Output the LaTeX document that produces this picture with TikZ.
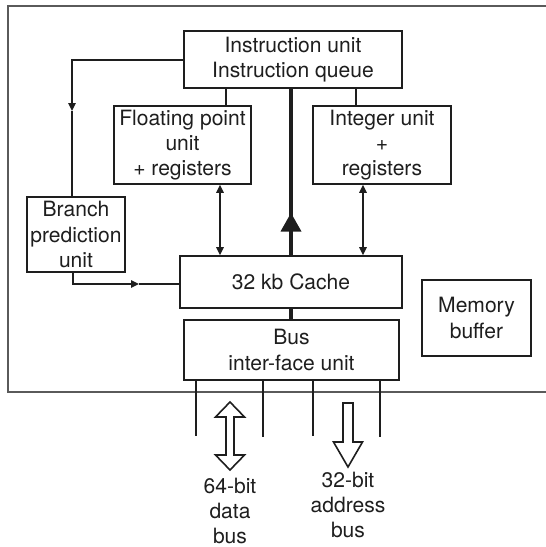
\documentclass[tikz,border=0pt]{standalone}
\usepackage{fontspec}
\setmainfont{TeX Gyre Heros}
\usetikzlibrary{arrows.meta}
\definecolor{ink}{HTML}{1E1E1E}
\definecolor{framegray}{HTML}{5A5A5A}
\begin{document}
\begin{tikzpicture}[x=0.75pt,y=-0.75pt,
  box/.style={draw=ink,line width=1.2pt,rectangle,inner sep=0pt,align=center,
    font=\fontsize{15.8}{18.9}\selectfont,text=ink},
  lbl/.style={inner sep=0pt,align=center,font=\fontsize{15.8}{18.6}\selectfont,text=ink},
  conn/.style={draw=ink,line width=1.2pt},
  tip/.style={-{Triangle[length=6pt,width=5.5pt]}},
  dtip/.style={{Triangle[length=6pt,width=5.5pt]}-{Triangle[length=6pt,width=5.5pt]}},
  thick bus/.style={draw=ink,line width=3.2pt},
  hollow/.style={draw=ink,line width=1.2pt,fill=white,line join=miter}
]
\useasboundingbox (0,0) rectangle (546,547);
% outer frame
\draw[framegray,line width=1.2pt] (546,6) -- (8,6) -- (8,392) -- (546,392);

% boxes
\node[box,minimum width=163.1pt,minimum height=42.75pt] (ins) at (293,59.5) {Instruction unit\\Instruction queue};
\node[box,minimum width=102.75pt,minimum height=58.5pt] (fp) at (182.5,145) {Floating point\\unit\\+ registers};
\node[box,minimum width=103.5pt,minimum height=58.5pt] (int) at (382,145) {Integer unit\\+\\registers};
\node[box,minimum width=73.5pt,minimum height=56.25pt] (bp) at (76,234.5) {Branch\\prediction\\unit};
\node[box,minimum width=166.5pt,minimum height=39pt] (cache) at (291,282) {32 kb Cache};
\node[box,minimum width=81.75pt,minimum height=57pt] (mem) at (476.5,318) {Memory\\buffer};
\node[box,minimum width=161.25pt,minimum height=45pt] (bus) at (291.5,350) {Bus\\inter-face unit};

% coordinates
\coordinate (a1) at (72,111);
\coordinate (a2) at (139,284);
\coordinate (big) at (291,213);

% instruction -> branch prediction
\draw[conn,tip] (ins.west |- 0,60) -| (a1);
\draw[conn] (a1) -- (bp.north -| a1);
% branch prediction -> cache
\draw[conn,tip] (bp.south -| 73,0) |- (a2);
\draw[conn] (a2) -- (cache.west |- a2);

% instruction -> fp / int
\draw[conn] (ins.south -| 226,0) -- (fp.north -| 226,0);
\draw[conn] (ins.south -| 356,0) -- (int.north -| 356,0);

% fp/int <-> cache
\draw[conn,dtip] (fp.south -| 220,0) -- (cache.north -| 220,0);
\draw[conn,dtip] (int.south -| 363,0) -- (cache.north -| 363,0);

% thick bus cache -> instruction
\draw[thick bus] (cache.north -| 291,0) -- (ins.south -| 291,0);
\fill[ink] (big) -- (301.5,231.5) -- (280.5,231.5) -- cycle;
\draw[thick bus] (cache.south -| 291,0) -- (bus.north -| 291,0);

% external bus lines
\coordinate (l1) at (196,436);
\coordinate (l2) at (263,437);
\coordinate (l3) at (313,436);
\coordinate (l4) at (380,437);
\draw[conn] (bus.south -| l1) -- (l1);
\draw[conn] (bus.south -| l2) -- (l2);
\draw[conn] (bus.south -| l3) -- (l3);
\draw[conn] (bus.south -| l4) -- (l4);

% hollow arrows
\draw[hollow] (230,402) -- (244.5,417) -- (234,417) -- (234,455) -- (244.5,455) -- (230,470)
  -- (215.5,455) -- (226,455) -- (226,417) -- (215.5,417) -- cycle;
\draw[hollow] (343,403) -- (353,403) -- (353,442) -- (362.5,442) -- (348,467) -- (333.5,442)
  -- (343,442) -- cycle;

% labels
\node[lbl] (dl) at (230,511) {64-bit\\data\\bus};
\node[lbl] (al) at (348,505) {32-bit\\address\\bus};
\end{tikzpicture}
\end{document}
